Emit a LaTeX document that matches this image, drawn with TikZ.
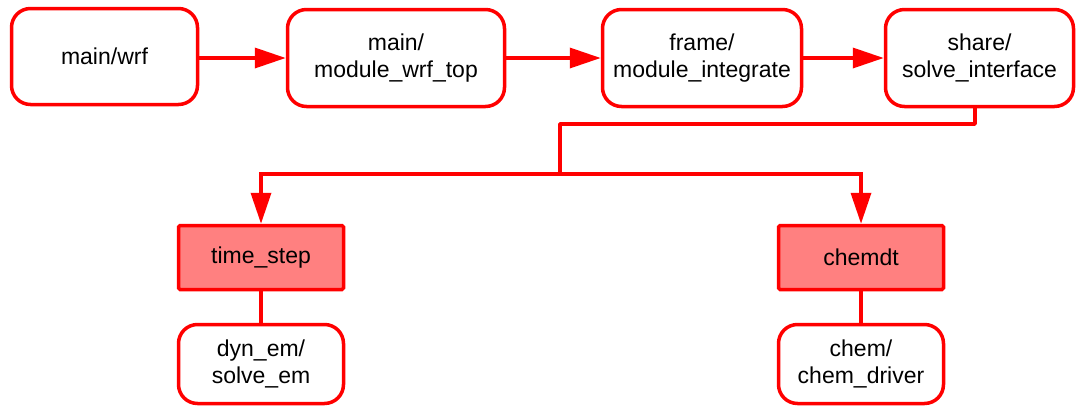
\documentclass[tikz,border=0pt]{standalone}
\usepackage{fontspec}
\setmainfont{Liberation Sans}
\usetikzlibrary{arrows.meta}
\definecolor{stepred}{HTML}{FF8080}
\begin{document}
\begin{tikzpicture}[x=1pt,y=-1pt,
  callbox/.style={draw=red, line width=3.5pt, rounded corners=19pt, fill=white,
    align=center, inner sep=0pt, font=\fontsize{23}{27}\selectfont},
  stepbox/.style={draw=red, line width=3.5pt, fill=stepred, rounded corners=1.5pt,
    align=center, inner sep=0pt, font=\fontsize{23}{27}\selectfont},
  link/.style={draw=red, line width=3.5pt},
  flow/.style={link, -{Triangle[length=31pt,width=20pt]}}]
\useasboundingbox (0,0) rectangle (1077,410);

% top row: call chain
\node[callbox, minimum width=186pt, minimum height=96pt] (wrf) at (104.5,56.5) {main/wrf};
\node[callbox, minimum width=217pt, minimum height=97pt] (top) at (396,58) {main/\\module\_wrf\_top};
\node[callbox, minimum width=199pt, minimum height=97pt] (integ) at (702,58) {frame/\\module\_integrate};
\node[callbox, minimum width=188pt, minimum height=97pt] (solve) at (979.5,58) {share/\\solve\_interface};

% second level: time steps
\node[stepbox, minimum width=165pt, minimum height=64pt] (ts) at (261,257.5) {time\_step};
\node[stepbox, minimum width=165pt, minimum height=64pt] (cd) at (861,257.5) {chemdt};

% bottom level: solvers
\node[callbox, minimum width=165pt, minimum height=79pt] (dyn) at (261,364) {dyn\_em/\\solve\_em};
\node[callbox, minimum width=165pt, minimum height=79pt] (chem) at (861,364) {chem/\\chem\_driver};

% arrows along the top row
\draw[flow] (wrf.east |- 0,58) -- (top.west);
\draw[flow] (top.east) -- (integ.west);
\draw[flow] (integ.east) -- (solve.west);

% branch from solve_interface down to the two time steps
\coordinate (drop) at (975,124);
\coordinate (split) at (560,174);
\draw[link, line join=round] (solve.south -| drop) -- (drop) -| (split);
\draw[flow] (split) -| (ts.north);
\draw[flow] (split) -| (cd.north);

% plain links to the solvers
\draw[link] (ts.south) -- (dyn.north);
\draw[link] (cd.south) -- (chem.north);
\end{tikzpicture}
\end{document}
